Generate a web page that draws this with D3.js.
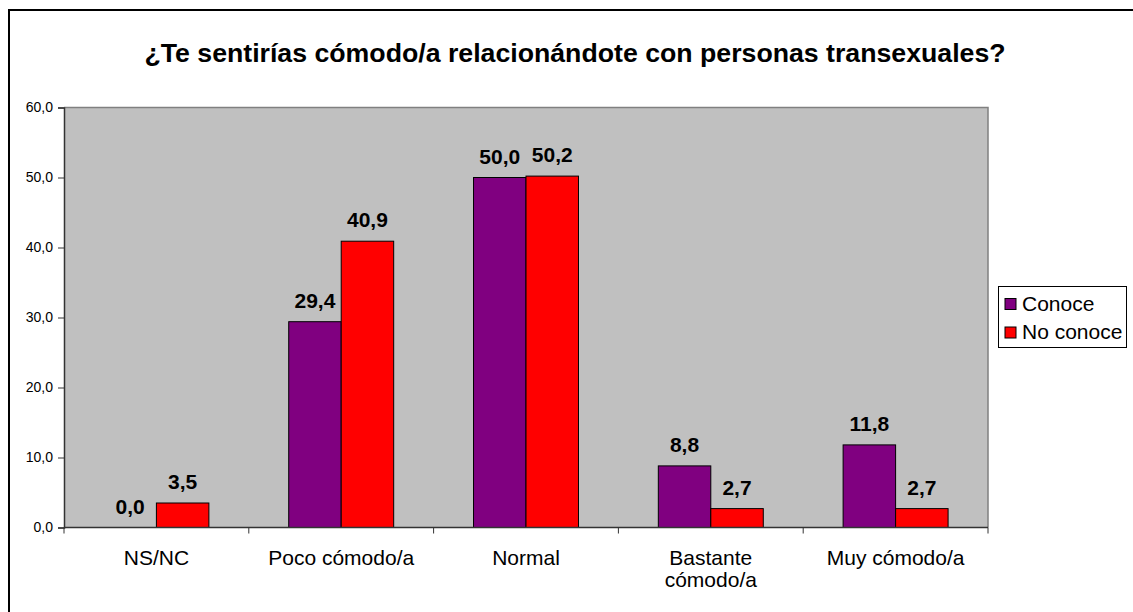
<!DOCTYPE html>
<html>
<head>
<meta charset="utf-8">
<script src="https://cdn.jsdelivr.net/npm/d3@7"></script>
<style>
  html, body { margin: 0; padding: 0; background: #fff; }
  svg { display: block; font-family: Arial, "Liberation Sans", sans-serif; }
</style>
</head>
<body>
<svg id="chart" width="1133" height="612"></svg>
<script>
// Survey answers grouped by whether the respondent knows a transsexual person
const categories = ["NS/NC", "Poco cómodo/a", "Normal", "Bastante cómodo/a", "Muy cómodo/a"];
const categoryLines = [["NS/NC"], ["Poco cómodo/a"], ["Normal"], ["Bastante", "cómodo/a"], ["Muy cómodo/a"]];
const seriesNames = ["Conoce", "No conoce"];
const conoce = [0.0, 29.4, 50.0, 8.8, 11.8];
const noConoce = [3.5, 40.9, 50.2, 2.7, 2.7];
const yTicks = [0, 10, 20, 30, 40, 50, 60];
const colors = ["#800080", "#ff0000"];
const title = "¿Te sentirías cómodo/a relacionándote con personas transexuales?";

const svg = d3.select("#chart");
const plot = { left: 64, right: 988, top: 107.5, bottom: 527.5 };

// Outer chart frame (runs off the right and bottom edges)
svg.append("rect")
  .attr("x", 9).attr("y", 10)
  .attr("width", 1140).attr("height", 620)
  .attr("fill", "#fff").attr("stroke", "#000").attr("stroke-width", 2);

// Title
svg.append("text")
  .attr("x", 575).attr("y", 62)
  .attr("text-anchor", "middle")
  .attr("font-size", 26.7).attr("font-weight", "bold")
  .attr("fill", "#000")
  .text(title);

const x0 = d3.scaleBand()
  .domain(categories)
  .range([plot.left, plot.right])
  .paddingInner(0.432)
  .paddingOuter(0.216);
const x1 = d3.scaleBand()
  .domain(seriesNames)
  .range([0, x0.bandwidth()]);
const y = d3.scaleLinear().domain([0, 60]).range([plot.bottom, plot.top]);

// Plot background
svg.append("rect")
  .attr("x", plot.left).attr("y", plot.top)
  .attr("width", plot.right - plot.left).attr("height", plot.bottom - plot.top)
  .attr("fill", "#c0c0c0");
// Top and right edges of plot area
svg.append("path")
  .attr("d", `M${plot.left},${plot.top}H${plot.right}V${plot.bottom}`)
  .attr("fill", "none").attr("stroke", "#808080").attr("stroke-width", 1.5);

// Bars
const rows = categories.map((c, i) => ({ cat: c, vals: [conoce[i], noConoce[i]] }));
const groups = svg.append("g").selectAll("g").data(rows).join("g")
  .attr("transform", d => `translate(${x0(d.cat)},0)`);
groups.selectAll("rect")
  .data(d => d.vals.map((v, k) => ({ v, k })))
  .join("rect")
  .attr("x", d => x1(seriesNames[d.k]))
  .attr("y", d => y(d.v))
  .attr("width", x1.bandwidth())
  .attr("height", d => y(0) - y(d.v))
  .attr("fill", d => colors[d.k])
  .attr("stroke", "#000").attr("stroke-width", 1)
  .attr("display", d => d.v > 0 ? null : "none");
groups.selectAll("text")
  .data(d => d.vals.map((v, k) => ({ v, k })))
  .join("text")
  .attr("x", d => x1(seriesNames[d.k]) + x1.bandwidth() / 2)
  .attr("y", d => y(d.v) - 14)
  .attr("text-anchor", "middle")
  .attr("font-size", 21).attr("font-weight", "bold")
  .attr("fill", "#000")
  .text(d => d.v.toFixed(1).replace(".", ","));

// Y axis
const yAxis = d3.axisLeft(y)
  .tickValues(yTicks)
  .tickSize(6)
  .tickPadding(5)
  .tickFormat(d => d3.format(".1f")(d).replace(".", ","));
const yg = svg.append("g").attr("transform", `translate(${plot.left},0)`).call(yAxis);
yg.select(".domain").attr("stroke", "#333").attr("stroke-width", 1.5);
yg.selectAll(".tick line").attr("stroke", "#333");
yg.selectAll(".tick text").attr("font-size", 14).attr("fill", "#000")
  .attr("font-family", "Arial, 'Liberation Sans', sans-serif");

// X axis baseline with category separators
svg.append("line")
  .attr("x1", plot.left).attr("x2", plot.right)
  .attr("y1", plot.bottom).attr("y2", plot.bottom)
  .attr("stroke", "#333").attr("stroke-width", 1.5);
const bounds = d3.range(categories.length + 1).map(i => plot.left + i * x0.step());
svg.append("g").selectAll("line").data(bounds).join("line")
  .attr("x1", d => d).attr("x2", d => d)
  .attr("y1", plot.bottom).attr("y2", plot.bottom + 6)
  .attr("stroke", "#333").attr("stroke-width", 1);

// Category labels
const catText = svg.append("g").selectAll("text").data(categories).join("text")
  .attr("x", d => x0(d) + x0.bandwidth() / 2)
  .attr("y", 565)
  .attr("text-anchor", "middle")
  .attr("font-size", 21).attr("fill", "#000");
catText.selectAll("tspan")
  .data((d, i) => categoryLines[i])
  .join("tspan")
  .attr("x", function () { return this.parentNode.getAttribute("x"); })
  .attr("dy", (d, j) => j === 0 ? 0 : 22)
  .text(d => d);

// Legend
const legend = svg.append("g");
legend.append("rect")
  .attr("x", 998.5).attr("y", 286.5).attr("width", 128).attr("height", 61)
  .attr("fill", "#fff").attr("stroke", "#000").attr("stroke-width", 1);
const items = legend.selectAll("g.item").data(seriesNames).join("g")
  .attr("class", "item")
  .attr("transform", (d, i) => `translate(1005,${298.5 + i * 28.5})`);
items.append("rect")
  .attr("width", 11).attr("height", 11)
  .attr("fill", (d, i) => colors[i])
  .attr("stroke", "#000").attr("stroke-width", 1);
items.append("text")
  .attr("x", 17).attr("y", 12)
  .attr("font-size", 21).attr("fill", "#000")
  .text(d => d);
</script>
</body>
</html>
